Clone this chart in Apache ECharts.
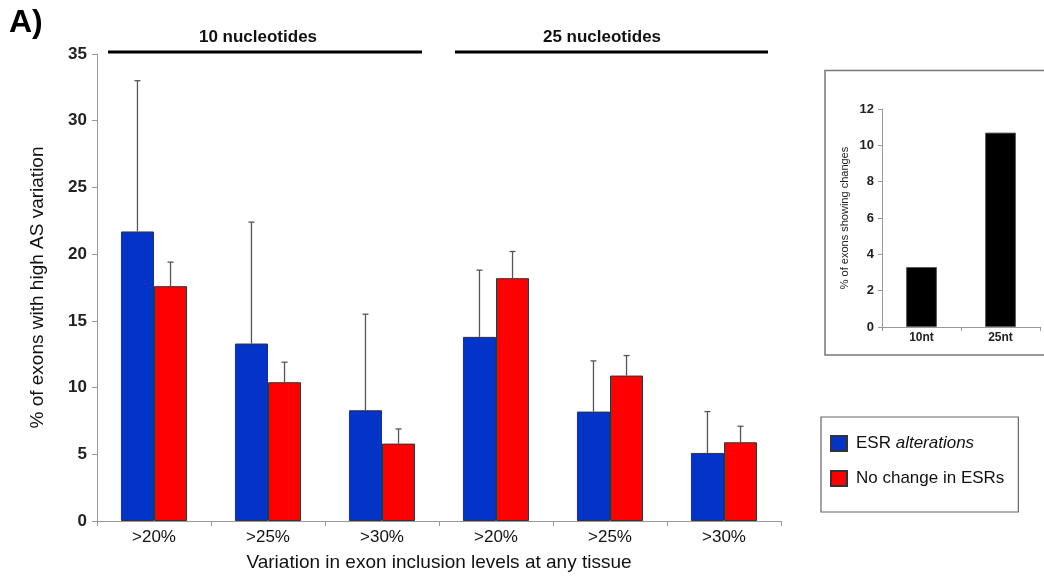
<!DOCTYPE html>
<html>
<head>
<meta charset="utf-8">
<script src="https://cdn.jsdelivr.net/npm/echarts@6/dist/echarts.min.js"></script>
<style>html,body{margin:0;padding:0;background:#fff;}#c{width:1044px;height:577px;}</style>
</head>
<body>
<div id="c"></div>
<script>
// ---- data ----
const categories = ['>20%', '>25%', '>30%', '>20%', '>25%', '>30%'];
const esrAlterations = [21.7, 13.3, 8.3, 13.8, 8.2, 5.1];
const esrAlterationsErrTop = [33.0, 22.4, 15.5, 18.8, 12.0, 8.2];
const noChange = [17.6, 10.4, 5.8, 18.2, 10.9, 5.9];
const noChangeErrTop = [19.4, 11.9, 6.9, 20.2, 12.4, 7.1];
const yTicks = { min: 0, max: 35, interval: 5 };
const insetCategories = ['10nt', '25nt'];
const insetValues = [3.3, 10.7];
const insetTicks = { min: 0, max: 12, interval: 2 };
const groupLabels = ['10 nucleotides', '25 nucleotides'];

const FONT = 'Liberation Sans, Arial, sans-serif';
const BLUE = '#0433C8';
const RED = '#FF0000';
const GAP_RATIO = 0.42;

function errData(vals, tops) {
  return vals.map((v, i) => [i, v, tops[i]]);
}
function errRender(sign) {
  return function (params, api) {
    const i = api.value(0);
    const base = api.coord([i, api.value(1)]);
    const top = api.coord([i, api.value(2)]);
    const catW = api.size([1, 0])[0];
    const x = base[0] + sign * catW * (1 - GAP_RATIO) / 4;
    const style = { stroke: '#555', lineWidth: 1.3 };
    return {
      type: 'group',
      children: [
        { type: 'line', shape: { x1: x, y1: base[1], x2: x, y2: top[1] }, style: style },
        { type: 'line', shape: { x1: x - 3, y1: top[1], x2: x + 3, y2: top[1] }, style: style }
      ]
    };
  };
}

const chart = echarts.init(document.getElementById('c'), null, { renderer: 'canvas' });
chart.setOption({
  backgroundColor: '#fff',
  animation: false,
  textStyle: { fontFamily: FONT },
  grid: [
    { left: 97, right: 263, top: 54, bottom: 56 },
    { left: 882, right: 4, top: 109, bottom: 250 }
  ],
  legend: {
    data: ['ESR alterations', 'No change in ESRs'],
    orient: 'vertical',
    left: 821, top: 417,
    padding: [18, 14, 25, 9],
    itemGap: 18,
    itemWidth: 16, itemHeight: 15,
    icon: 'rect',
    borderColor: '#666', borderWidth: 1.2,
    textStyle: {
      fontFamily: FONT, fontSize: 17, color: '#111', padding: [0, 0, 0, 4],
      rich: { i: { fontFamily: FONT, fontSize: 17, fontStyle: 'italic', color: '#111' } }
    },
    formatter: function (name) {
      return name === 'ESR alterations' ? 'ESR {i|alterations}' : name;
    }
  },
  xAxis: [
    {
      type: 'category', gridIndex: 0, data: categories,
      axisLine: { lineStyle: { color: '#999', width: 1 } },
      axisTick: { show: true, length: 5, lineStyle: { color: '#999' } },
      axisLabel: { fontSize: 17, color: '#111', margin: 8, fontFamily: FONT },
      name: 'Variation in exon inclusion levels at any tissue',
      nameLocation: 'middle', nameGap: 32,
      nameTextStyle: { fontSize: 19, color: '#111', fontFamily: FONT }
    },
    {
      type: 'category', gridIndex: 1, data: insetCategories,
      axisLine: { lineStyle: { color: '#999', width: 1 } },
      axisTick: { show: true, length: 4, lineStyle: { color: '#999' } },
      axisLabel: { fontSize: 12, fontWeight: 'bold', color: '#222', margin: 5, fontFamily: FONT }
    }
  ],
  yAxis: [
    {
      type: 'value', gridIndex: 0, min: yTicks.min, max: yTicks.max, interval: yTicks.interval,
      axisLine: { show: true, lineStyle: { color: '#999', width: 1 } },
      axisTick: { show: true, length: 5, lineStyle: { color: '#999' } },
      splitLine: { show: false },
      axisLabel: { fontSize: 17, fontWeight: 'bold', color: '#222', margin: 10, fontFamily: FONT },
      name: '% of exons with high AS variation',
      nameLocation: 'middle', nameGap: 50, nameRotate: 90,
      nameTextStyle: { fontSize: 19, color: '#111', fontFamily: FONT }
    },
    {
      type: 'value', gridIndex: 1, min: insetTicks.min, max: insetTicks.max, interval: insetTicks.interval,
      axisLine: { show: true, lineStyle: { color: '#999', width: 1 } },
      axisTick: { show: true, length: 4, lineStyle: { color: '#999' } },
      splitLine: { show: false },
      axisLabel: { fontSize: 13, fontWeight: 'bold', color: '#222', margin: 8, fontFamily: FONT },
      name: '% of exons showing changes',
      nameLocation: 'middle', nameGap: 32, nameRotate: 90,
      nameTextStyle: { fontSize: 11, color: '#222', fontFamily: FONT }
    }
  ],
  series: [
    {
      name: 'ESR alterations', type: 'bar', xAxisIndex: 0, yAxisIndex: 0,
      data: esrAlterations, barGap: '0%', barCategoryGap: (GAP_RATIO * 100) + '%',
      itemStyle: { color: BLUE, borderColor: '#333', borderWidth: 1 }
    },
    {
      name: 'No change in ESRs', type: 'bar', xAxisIndex: 0, yAxisIndex: 0,
      data: noChange, barGap: '0%', barCategoryGap: (GAP_RATIO * 100) + '%',
      itemStyle: { color: RED, borderColor: '#333', borderWidth: 1 }
    },
    {
      name: 'errESR', type: 'custom', xAxisIndex: 0, yAxisIndex: 0, z: 5,
      data: errData(esrAlterations, esrAlterationsErrTop),
      encode: { x: 0, y: [1, 2] },
      renderItem: errRender(-1)
    },
    {
      name: 'errNo', type: 'custom', xAxisIndex: 0, yAxisIndex: 0, z: 5,
      data: errData(noChange, noChangeErrTop),
      encode: { x: 0, y: [1, 2] },
      renderItem: errRender(1)
    },
    {
      name: 'inset', type: 'bar', xAxisIndex: 1, yAxisIndex: 1,
      data: insetValues, barCategoryGap: '61%',
      itemStyle: { color: '#000', borderColor: '#555', borderWidth: 1 }
    }
  ],
  graphic: [
    { type: 'text', left: 9, top: 7, style: { text: 'A)', font: 'bold 32px ' + FONT, fill: '#000' } },
    { type: 'text', x: 258, y: 37, style: { text: groupLabels[0], font: 'bold 17px ' + FONT, fill: '#111', align: 'center', verticalAlign: 'middle' } },
    { type: 'text', x: 602, y: 37, style: { text: groupLabels[1], font: 'bold 17px ' + FONT, fill: '#111', align: 'center', verticalAlign: 'middle' } },
    { type: 'line', shape: { x1: 108, y1: 52, x2: 422, y2: 52 }, style: { stroke: '#000', lineWidth: 3 } },
    { type: 'line', shape: { x1: 455, y1: 52, x2: 768, y2: 52 }, style: { stroke: '#000', lineWidth: 3 } },
    { type: 'rect', shape: { x: 825, y: 70.5, width: 230, height: 284.5 }, style: { fill: 'none', stroke: '#777', lineWidth: 1.5 }, z: -1 }
  ]
});
</script>
</body>
</html>
